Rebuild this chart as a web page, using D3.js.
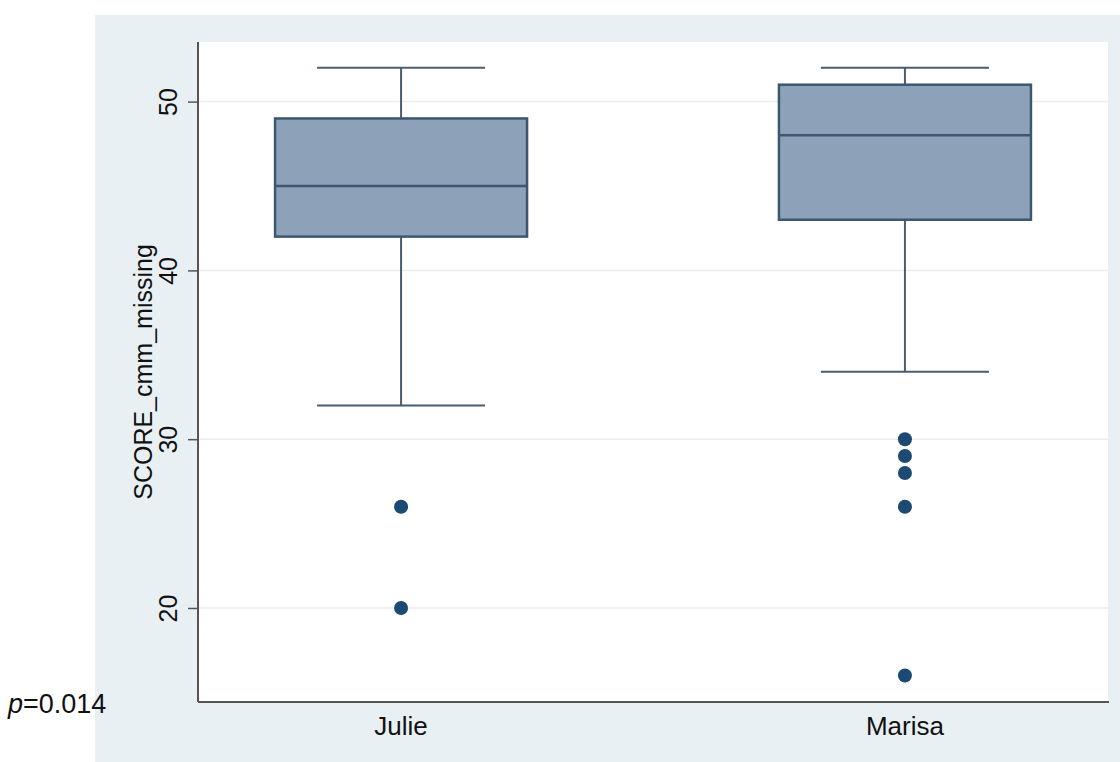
<!DOCTYPE html>
<html>
<head>
<meta charset="utf-8">
<script src="https://cdn.jsdelivr.net/npm/d3@7"></script>
<style>
  body { margin: 0; background: #fff; }
  text { font-family: "Liberation Sans", Arial, sans-serif; fill: #111; }
</style>
</head>
<body>
<div id="chart"></div>
<script>
// box plot values
const categories = ['Julie', 'Marisa'];
const whiskerLow = [32, 34];
const q1 = [42, 43];
const medians = [45, 48];
const q3 = [49, 51];
const whiskerHigh = [52, 52];
const outliers = [[26, 20], [30, 29, 28, 26, 16]];
const yTicks = [20, 30, 40, 50];
const pValue = '=0.014';

const W = 1120, H = 762;
const margin = {top: 42, left: 198, right: 12, bottom: 60};
const width = W - margin.left - margin.right,
      height = H - margin.top - margin.bottom;

let svg = d3.select('#chart').append('svg')
  .attr('width', W).attr('height', H);

// outer grey panel
svg.append('rect')
  .attr('x', 95).attr('y', 15)
  .attr('width', W - 95).attr('height', H - 15)
  .style('fill', '#e9f0f3');

let g = svg.append('g').attr('transform', 'translate(' + margin.left + ',' + margin.top + ')');

g.append('rect').attr('width', width).attr('height', height).style('fill', '#fff');

let x = d3.scalePoint().domain(categories).range([0, width]).padding(0.403);
let y = d3.scaleLinear().domain([14.43, 53.53]).range([height, 0]);

// grid
g.selectAll('.grid').data(yTicks).enter().append('line')
  .attr('x1', 0).attr('x2', width)
  .attr('y1', d => y(d)).attr('y2', d => y(d))
  .style('stroke', '#ececec').style('stroke-width', 1.5);

const boxHalf = 126, capHalf = 84;

let box = g.selectAll('.box').data(categories).enter().append('g')
  .attr('class', 'box')
  .attr('transform', d => 'translate(' + x(d) + ',0)');

// whiskers
box.append('line')
  .attr('y1', (d, i) => y(whiskerLow[i])).attr('y2', (d, i) => y(q1[i]))
  .style('stroke', '#4a5d70').style('stroke-width', 2);
box.append('line')
  .attr('y1', (d, i) => y(whiskerHigh[i])).attr('y2', (d, i) => y(q3[i]))
  .style('stroke', '#4a5d70').style('stroke-width', 2);
box.append('line')
  .attr('x1', -capHalf).attr('x2', capHalf)
  .attr('y1', (d, i) => y(whiskerLow[i])).attr('y2', (d, i) => y(whiskerLow[i]))
  .style('stroke', '#4a5d70').style('stroke-width', 2);
box.append('line')
  .attr('x1', -capHalf).attr('x2', capHalf)
  .attr('y1', (d, i) => y(whiskerHigh[i])).attr('y2', (d, i) => y(whiskerHigh[i]))
  .style('stroke', '#4a5d70').style('stroke-width', 2);

// box
box.append('rect')
  .attr('x', -boxHalf).attr('width', boxHalf * 2)
  .attr('y', (d, i) => y(q3[i]))
  .attr('height', (d, i) => y(q1[i]) - y(q3[i]))
  .style('fill', '#8da2b8').style('stroke', '#3e5670').style('stroke-width', 2.5);
box.append('line')
  .attr('x1', -boxHalf).attr('x2', boxHalf)
  .attr('y1', (d, i) => y(medians[i])).attr('y2', (d, i) => y(medians[i]))
  .style('stroke', '#3e5670').style('stroke-width', 2.5);

// outliers
box.each(function(d, i) {
  d3.select(this).selectAll('circle').data(outliers[i]).enter().append('circle')
    .attr('cx', 0).attr('cy', v => y(v)).attr('r', 7)
    .style('fill', '#1c4a72');
});

// axes
let yAxis = g.append('g')
  .call(d3.axisLeft(y).tickValues(yTicks).tickSize(10).tickPadding(6));
yAxis.select('.domain').remove();
yAxis.selectAll('.tick line').style('stroke', '#555').style('stroke-width', 1.5);
yAxis.selectAll('.tick text')
  .attr('transform', 'rotate(-90)')
  .attr('x', 0).attr('y', -21).attr('dy', 0)
  .style('text-anchor', 'middle')
  .style('font-size', '25px')
  .style('font-family', '"Liberation Sans", Arial, sans-serif')
  .style('fill', '#111');

g.append('line').attr('x1', 0).attr('x2', 0).attr('y1', 0).attr('y2', height)
  .style('stroke', '#555').style('stroke-width', 2);
g.append('line').attr('x1', 0).attr('x2', width + 1).attr('y1', height).attr('y2', height)
  .style('stroke', '#555').style('stroke-width', 2);

g.selectAll('.xlabel').data(categories).enter().append('text')
  .attr('x', d => x(d)).attr('y', height + 33)
  .style('text-anchor', 'middle').style('font-size', '26px')
  .text(d => d);

// y title
svg.append('text')
  .attr('transform', 'translate(152,' + (margin.top + height / 2) + ') rotate(-90)')
  .style('text-anchor', 'middle').style('font-size', '25px')
  .text('SCORE_cmm_missing');

// p value note
let p = svg.append('text').attr('x', 8).attr('y', 713).style('font-size', '27px');
p.append('tspan').style('font-style', 'italic').text('p');
p.append('tspan').text(pValue);
</script>
</body>
</html>
